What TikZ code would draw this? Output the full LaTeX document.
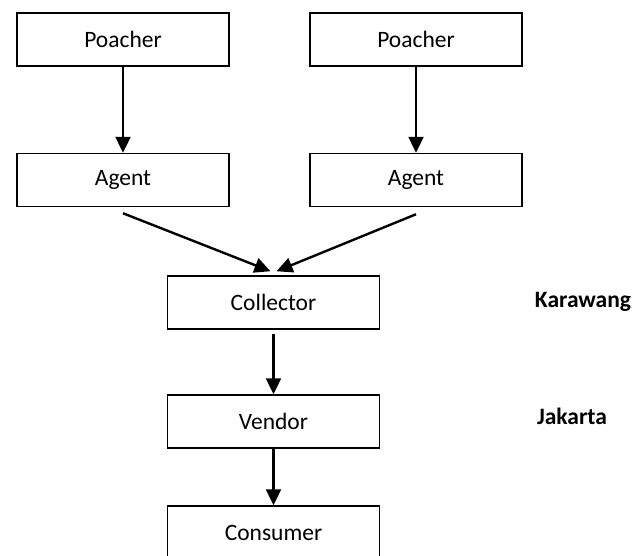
\documentclass[tikz,border=0pt]{standalone}
\usepackage{fontspec}
\setmainfont{Carlito}
\usetikzlibrary{arrows.meta}
\begin{document}
\begin{tikzpicture}[x=1pt,y=-1pt,
  box/.style={draw=black,line width=1.5pt,minimum width=212pt,minimum height=53pt,inner sep=0pt,font=\fontsize{23.5}{28}\selectfont},
  flow/.style={line width=2.4pt,-{Triangle[width=15pt,length=16pt]}},
  place/.style={font=\fontsize{23.5}{28}\selectfont\bfseries}]
\useasboundingbox (0,0) rectangle (643,555);
\clip (0,0) rectangle (643,555);
\node[box] (pL) at (123,39.5) {Poacher};
\node[box] (pR) at (416,39.5) {Poacher};
\node[box] (aL) at (123,180) {Agent};
\node[box] (aR) at (416,180) {Agent};
\node[box] (col) at (273.5,302.5) {Collector};
\node[box] (ven) at (273.5,421.5) {Vendor};
\node[box] (con) at (273.5,532.5) {Consumer};
\node[place] (kar) at (583,302) {Karawang};
\node[place] (jak) at (572,416) {Jakarta};
\draw[flow] (pL.south) -- (aL.north);
\draw[flow] (pR.south) -- (aR.north);
\draw[flow] ([yshift=-6pt]aL.south) -- ([xshift=-3pt,yshift=4pt]col.north);
\draw[flow] ([yshift=-7pt]aR.south) -- ([xshift=3pt,yshift=4pt]col.north);
\draw[flow] ([yshift=-4pt]col.south) -- (ven.north);
\draw[flow] (ven.south) -- (con.north);
\end{tikzpicture}
\end{document}
